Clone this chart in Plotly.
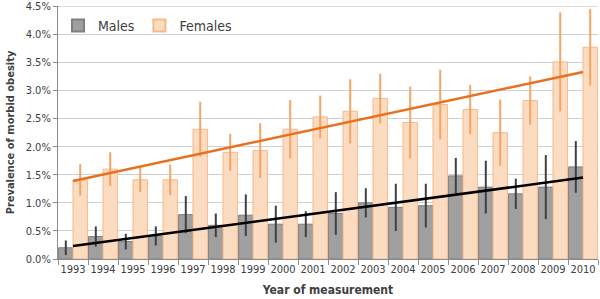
import plotly.graph_objects as go

years = [str(y) for y in range(1993, 2011)]
males = [0.20, 0.40, 0.31, 0.41, 0.79, 0.60, 0.78, 0.62, 0.62, 0.81, 1.00, 0.92, 0.95, 1.48, 1.28, 1.16, 1.28, 1.64]
males_err = [0.13, 0.18, 0.14, 0.17, 0.33, 0.21, 0.37, 0.33, 0.23, 0.38, 0.26, 0.42, 0.39, 0.32, 0.47, 0.27, 0.57, 0.46]
females = [1.41, 1.60, 1.41, 1.41, 2.31, 1.90, 1.93, 2.31, 2.53, 2.63, 2.86, 2.43, 2.75, 2.66, 2.25, 2.82, 3.51, 3.77]
females_err = [0.28, 0.30, 0.22, 0.27, 0.49, 0.33, 0.49, 0.52, 0.38, 0.57, 0.44, 0.64, 0.62, 0.44, 0.59, 0.43, 0.88, 0.68]
trend_x = ["1993", "2010"]
males_trend = [0.23, 1.45]
females_trend = [1.39, 3.33]
y_tickvals = [0, 0.5, 1, 1.5, 2, 2.5, 3, 3.5, 4, 4.5]
y_ticktext = ["0.0%", "0.5%", "1.0%", "1.5%", "2.0%", "2.5%", "3.0%", "3.5%", "4.0%", "4.5%"]

fig = go.Figure()
fig.add_trace(go.Bar(
    x=years, y=males, name="Males",
    marker=dict(color="#a0a0a0", line=dict(color="#7f7f7f", width=1)),
    error_y=dict(type="data", array=males_err, visible=True, color="#404040", thickness=2, width=0),
))
fig.add_trace(go.Bar(
    x=years, y=females, name="Females",
    marker=dict(color="#fcdcc0", line=dict(color="#f5b98a", width=1)),
    error_y=dict(type="data", array=females_err, visible=True, color="#f4a566", thickness=2, width=0),
))
fig.add_trace(go.Scatter(x=trend_x, y=females_trend, mode="lines", showlegend=False,
                         line=dict(color="#e8701e", width=2.5)))
fig.add_trace(go.Scatter(x=trend_x, y=males_trend, mode="lines", showlegend=False,
                         line=dict(color="#000000", width=2.5)))

# top gridline (plotly skips it at the range edge)
fig.add_shape(type="line", xref="paper", x0=0, x1=1, yref="y", y0=y_tickvals[-1], y1=y_tickvals[-1],
              line=dict(color="#d0d0d0", width=1), layer="below")

font_family = "DejaVu Sans Condensed, Roboto, sans-serif"
fig.update_layout(
    width=600, height=299,
    margin=dict(l=58, r=2, t=6, b=40),
    paper_bgcolor="white", plot_bgcolor="white",
    barmode="group", bargap=0.04, bargroupgap=0,
    font=dict(family=font_family, size=11, color="#404040"),
    legend=dict(orientation="h", x=0.0, y=0.985, xanchor="left", yanchor="top",
                bgcolor="rgba(0,0,0,0)", font=dict(size=14, color="#404040"),
                itemsizing="constant", traceorder="normal"),
    xaxis=dict(
        type="category", showline=True, linecolor="#8c8c8c", linewidth=1,
        ticks="outside", tickson="boundaries", ticklen=5, tickcolor="#8c8c8c",
        showgrid=False, tickangle=0, automargin=False, tickfont=dict(size=11, color="#404040"),
        title=dict(text="<b>Year of measurement</b>", font=dict(size=12, color="#404040"), standoff=10),
    ),
    yaxis=dict(
        range=[0, 4.505], tickvals=y_tickvals, ticktext=y_ticktext,
        showline=True, linecolor="#8c8c8c", linewidth=1, automargin=False,
        ticklabeloverflow="allow",
        ticks="outside", ticklen=4, tickcolor="#8c8c8c",
        showgrid=True, gridcolor="#d0d0d0", gridwidth=1,
        tickfont=dict(size=11, color="#404040"),
        title=dict(text="<b>Prevalence of morbid obesity</b>", font=dict(size=11, color="#404040"), standoff=8),
    ),
)

fig.write_html("out.html", config={"displayModeBar": False},
               post_script="document.body.style.margin='0';document.body.style.overflow='hidden';")
